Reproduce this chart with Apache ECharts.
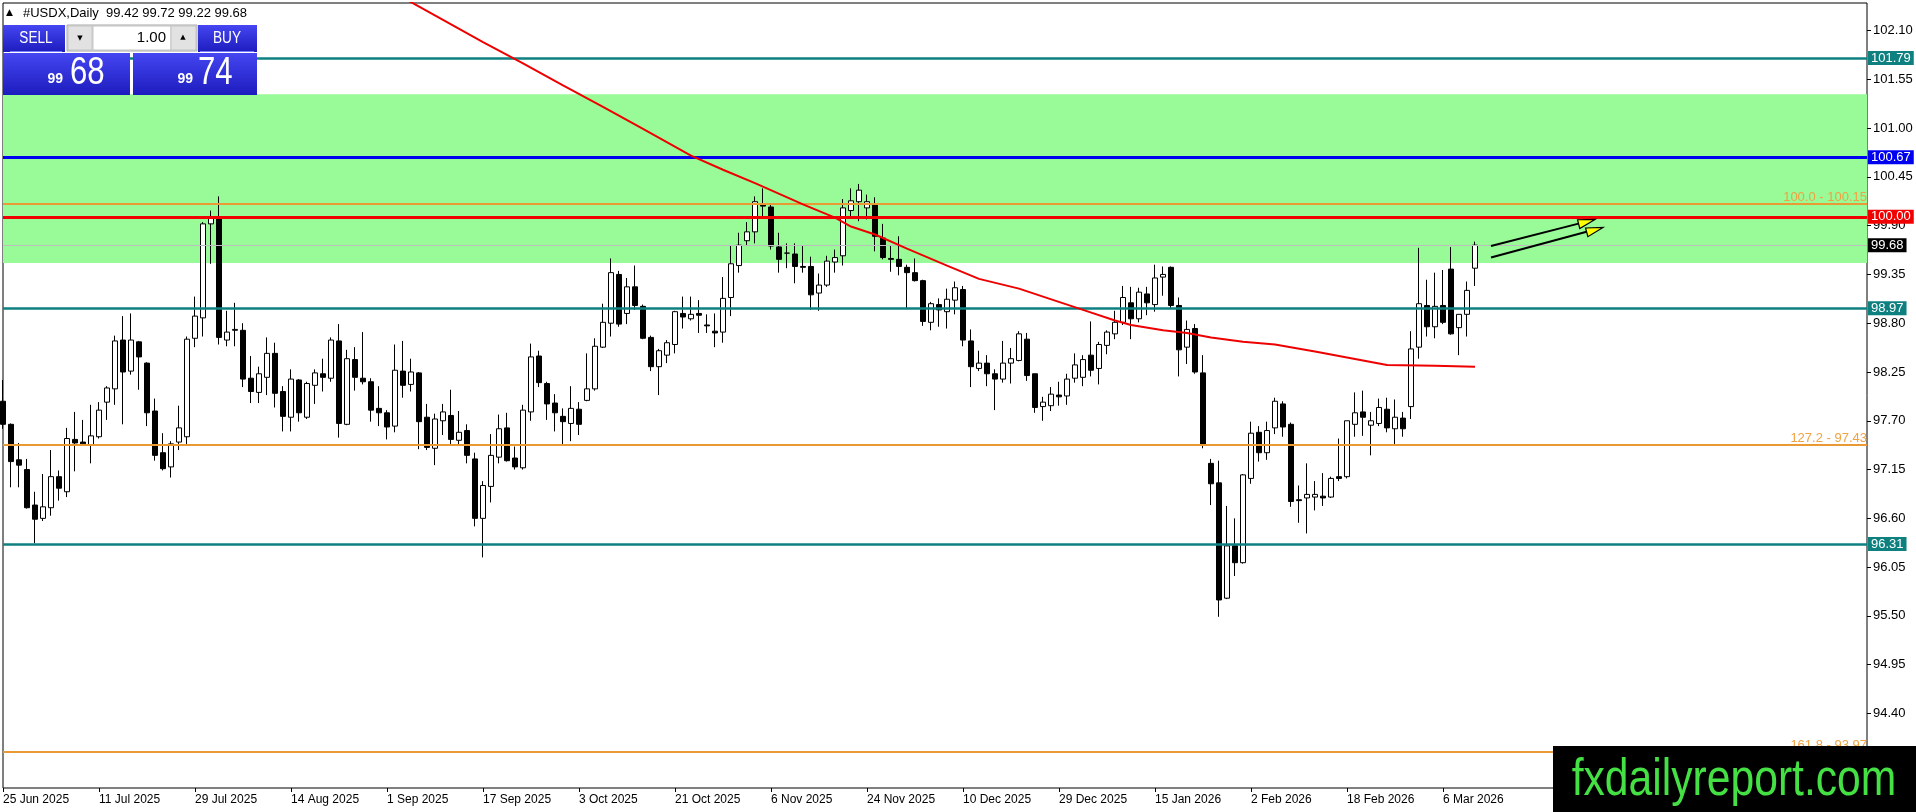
<!DOCTYPE html>
<html><head><meta charset="utf-8">
<script src="https://cdn.jsdelivr.net/npm/echarts@6/dist/echarts.min.js"></script>
<style>html,body{margin:0;padding:0;background:#fff;}#c{width:1916px;height:812px;}</style>
</head><body><div id="c"></div>
<script>
// ---- trading days (categories) ----
const jun25=[25,26,27,30];
const jul25=[1,2,3,4,7,8,9,10,11,14,15,16,17,18,21,22,23,24,25,28,29,30,31];
const aug25=[1,4,5,6,7,8,11,12,13,14,15,18,19,20,21,22,25,26,27,28,29];
const sep25=[1,2,3,4,5,8,9,10,11,12,15,16,17,18,19,22,23,24,25,26,29,30];
const oct25=[1,2,3,6,7,8,9,10,13,14,15,16,17,20,21,22,23,24,27,28,29,30,31];
const nov25=[3,4,5,6,7,10,11,12,13,14,17,18,19,20,21,24,25,26,27,28];
const dec25=[1,2,3,4,5,8,9,10,11,12,15,16,17,18,19,22,23,24,26,29,30,31];
const jan26=[2,5,6,7,8,9,12,13,14,15,16,19,20,21,22,23,26,27,28,29,30];
const feb26=[2,3,4,5,6,9,10,11,12,13,16,17,18,19,20,23,24,25,26,27];
const mar26=[2,3,4,5,6,9,10,11,12];
const monthNames=['Jan','Feb','Mar','Apr','May','Jun','Jul','Aug','Sep','Oct','Nov','Dec'];
const months=[[2025,6,jun25],[2025,7,jul25],[2025,8,aug25],[2025,9,sep25],[2025,10,oct25],[2025,11,nov25],[2025,12,dec25],[2026,1,jan26],[2026,2,feb26],[2026,3,mar26]];

// ---- OHLC ----
const opens=[97.92,97.66,97.26,97.15,96.75,96.60,96.72,97.07,96.90,97.49,97.46,97.43,97.52,97.91,98.06,98.61,98.26,98.59,98.35,97.81,97.34,97.18,97.46,97.52,98.63,98.86,99.92,99.98,98.61,98.72,98.72,98.18,98.02,98.19,98.46,98.03,97.74,98.16,97.74,98.10,98.23,98.18,98.60,97.66,98.39,98.18,98.14,97.84,97.79,97.64,98.26,98.11,98.24,97.74,97.39,97.70,97.76,97.48,97.59,97.27,96.60,96.96,97.29,97.62,97.28,97.17,97.80,98.43,98.12,97.90,97.75,97.67,97.83,97.93,98.06,98.53,98.80,99.35,98.91,99.21,98.99,98.64,98.31,98.44,98.56,98.91,98.85,98.91,98.78,98.71,98.70,99.09,99.45,99.73,99.83,100.14,100.11,99.66,99.59,99.58,99.44,99.44,99.14,99.23,99.49,99.56,100.07,100.17,100.10,100.14,99.76,99.53,99.52,99.43,99.37,99.28,98.81,99.01,98.93,99.06,99.18,98.60,98.29,98.35,98.23,98.17,98.35,98.38,98.62,98.23,97.86,97.87,97.99,97.98,98.18,98.19,98.44,98.29,98.55,98.68,98.81,99.03,98.85,99.13,99.01,99.32,99.43,99.00,98.53,98.74,98.24,97.22,97.00,95.70,96.29,96.10,97.05,97.57,97.34,97.62,97.89,97.66,96.81,96.83,96.84,96.85,96.84,97.07,97.07,97.66,97.80,97.65,97.67,97.83,97.61,97.73,97.86,98.53,99.00,98.76,99.00,99.41,98.75,98.90,99.42];
const closes=[97.66,97.24,97.20,96.72,96.59,96.73,97.07,96.94,97.50,97.45,97.44,97.53,97.82,98.07,98.60,98.25,98.61,98.42,97.79,97.31,97.16,97.44,97.62,98.62,98.88,99.92,99.98,98.64,98.70,98.73,98.17,98.03,98.23,98.46,98.01,97.75,98.17,97.79,98.12,98.24,98.19,98.61,97.67,98.40,98.19,98.14,97.82,97.79,97.63,98.27,98.10,98.25,97.69,97.40,97.72,97.80,97.49,97.57,97.31,96.60,96.97,97.31,97.61,97.25,97.18,97.82,98.42,98.13,97.89,97.79,97.69,97.84,97.66,98.06,98.54,98.81,99.37,98.79,99.21,99.00,98.63,98.31,98.49,98.58,98.93,98.87,98.90,98.89,98.77,98.69,99.08,99.47,99.68,99.83,100.17,100.12,99.67,99.52,99.59,99.44,99.43,99.12,99.23,99.50,99.54,100.10,100.18,100.30,100.17,99.78,99.54,99.52,99.44,99.37,99.28,98.82,99.02,98.95,99.07,99.20,98.61,98.31,98.35,98.23,98.17,98.35,98.40,98.68,98.21,97.85,97.91,98.00,97.97,98.17,98.33,98.39,98.27,98.56,98.70,98.81,99.09,98.85,99.15,99.03,99.31,99.35,99.00,98.50,98.73,98.25,97.43,96.99,95.68,96.29,96.10,97.09,97.56,97.34,97.59,97.92,97.63,96.79,96.80,96.87,96.87,96.83,97.05,97.05,97.70,97.79,97.74,97.70,97.85,97.62,97.74,97.61,98.51,99.02,98.76,98.99,98.81,98.68,98.90,99.17,99.68];
const lows=[97.61,96.95,96.95,96.71,96.32,96.57,96.63,96.80,96.84,97.13,97.43,97.22,97.50,97.71,97.88,97.66,98.22,98.05,97.64,97.25,97.14,97.06,97.37,97.43,98.53,98.65,99.47,98.56,98.54,98.54,98.08,97.90,97.90,97.99,97.85,97.58,97.58,97.69,97.72,97.89,98.03,98.14,97.51,97.65,98.04,98.11,97.69,97.64,97.49,97.57,97.96,98.03,97.38,97.37,97.20,97.54,97.43,97.43,97.22,96.51,96.16,96.78,97.22,97.24,97.15,97.15,97.70,98.08,97.71,97.58,97.43,97.47,97.54,97.92,98.04,98.52,98.65,98.76,98.79,98.95,98.62,98.26,97.99,98.35,98.46,98.74,98.83,98.69,98.69,98.53,98.58,98.88,99.37,99.67,99.70,100.00,99.63,99.37,99.42,99.25,99.37,98.95,98.94,99.21,99.37,99.45,100.00,99.95,99.97,99.61,99.52,99.38,99.34,98.97,99.27,98.77,98.72,98.76,98.74,98.90,98.54,98.08,98.26,98.09,97.82,98.13,98.12,98.37,98.15,97.79,97.70,97.81,97.87,97.88,98.13,98.09,98.20,98.11,98.45,98.62,98.78,98.62,98.81,98.89,98.93,99.11,98.97,98.20,98.34,98.23,97.39,96.75,95.49,95.69,95.95,96.09,96.99,97.24,97.26,97.55,97.52,96.73,96.55,96.43,96.69,96.74,96.83,97.02,97.05,97.52,97.53,97.31,97.64,97.57,97.43,97.52,97.72,98.40,98.65,98.63,98.79,98.67,98.44,98.65,99.22];
const highs=[98.16,97.67,97.45,97.27,96.90,97.10,97.37,97.14,97.62,97.80,97.71,97.88,97.91,98.09,98.66,98.88,98.91,98.60,98.36,97.95,97.56,97.47,97.87,98.65,99.10,99.94,100.07,100.23,98.94,99.03,98.80,98.43,98.31,98.64,98.58,98.09,98.28,98.17,98.14,98.28,98.40,98.64,98.79,98.50,98.53,98.70,98.18,98.09,97.82,98.56,98.60,98.40,98.25,97.89,97.78,97.89,98.05,97.81,97.66,97.34,97.02,97.55,97.77,97.79,97.41,97.88,98.57,98.49,98.14,98.00,97.84,98.09,97.91,98.46,98.63,99.02,99.53,99.39,99.31,99.45,99.01,98.66,98.51,98.61,98.94,99.10,99.10,99.06,98.90,98.91,99.32,99.68,99.82,99.94,100.23,100.32,100.14,99.82,99.70,99.70,99.67,99.55,99.36,99.56,99.63,100.20,100.32,100.37,100.25,100.22,99.92,99.67,99.78,99.46,99.53,99.29,99.04,99.08,99.19,99.27,99.22,98.73,98.49,98.44,98.28,98.60,98.52,98.71,98.69,98.23,97.97,98.08,98.14,98.23,98.46,98.44,98.82,98.59,98.72,98.94,99.22,99.21,99.20,99.21,99.46,99.44,99.44,99.09,98.83,98.79,98.44,97.27,97.25,96.74,96.60,97.10,97.69,97.64,97.69,97.96,97.92,97.68,96.97,97.22,97.02,97.11,97.07,97.50,97.70,98.02,98.04,97.80,97.95,97.96,97.94,97.80,98.71,99.65,99.29,99.37,99.40,99.66,98.90,99.27,99.72];

// ---- moving average (read points) ----
const maIndex=[50,55,60,65,70,75,80,86,90,94,100,104,106,109,113,118,122,127,130,135,139,141,145,148,151,155,159,164,170,173,179,184];
const maValue=[102.47,102.22,101.97,101.73,101.48,101.24,100.99,100.69,100.53,100.38,100.14,99.99,99.89,99.80,99.64,99.45,99.30,99.19,99.10,98.95,98.83,98.78,98.72,98.69,98.64,98.59,98.56,98.48,98.38,98.33,98.32,98.31];

// ---- y axis tick labels ----
const yTicks=[93.85,94.40,94.95,95.50,96.05,96.60,97.15,97.70,98.25,98.80,99.35,99.90,100.45,101.00,101.55,102.10];

// ---- drawn objects ----
const zoneTop=101.38, zoneBottom=99.48;
const tealLevels=[101.79,98.97,96.31];
const blueLevel=100.67, redLevel=100.00;
const fibLevels=[100.15,97.43,93.97];
const fibLabels=['100.0 - 100.15','127.2 - 97.43','161.8 - 93.97'];
const bid=99.68, ask=99.74;
const arrowLines=[[186,99.67,199,99.97],[186,99.54,200,99.88]];

// ---- build ----
const categories=[];
months.forEach(([y,m,ds])=>ds.forEach(d=>categories.push(d+' '+monthNames[m-1]+' '+y)));
const totalSlots=234;
const xData=categories.slice();
for(let k=categories.length;k<totalSlots;k++) xData.push('pad'+k);
const nBars=categories.length;
const candleData=opens.map((o,i)=>[o,closes[i],lows[i],highs[i]]);
const maData=new Array(totalSlots).fill(null);
maIndex.forEach((ix,k)=>{maData[ix]=maValue[k];});

const FONT='Liberation Sans';
const TEAL='#0E8080', FIB='#EA9A34', FIBTXT='#F0A242';
function tag(v,bg){return {show:true,position:'end',distance:1,formatter:v.toFixed(2),backgroundColor:bg,color:'#fff',fontFamily:FONT,fontSize:13,padding:[1,3,0,3],lineHeight:13};}
const markLines=[];
tealLevels.forEach(v=>markLines.push({yAxis:v,lineStyle:{color:TEAL,width:2.5,type:'solid'},label:tag(v,TEAL)}));
markLines.push({yAxis:blueLevel,lineStyle:{color:'#0000F0',width:3,type:'solid'},label:tag(blueLevel,'#0000F0')});
fibLevels.forEach((v,k)=>markLines.push({yAxis:v,lineStyle:{color:FIB,width:2,type:'solid'},label:{show:true,position:'insideEndTop',distance:0,formatter:fibLabels[k],color:FIBTXT,fontFamily:FONT,fontSize:13,lineHeight:13}}));
markLines.push({yAxis:redLevel,lineStyle:{color:'#F00000',width:3,type:'solid'},label:tag(redLevel,'#F00000')});
markLines.push({yAxis:bid,lineStyle:{color:'#BDBDBD',width:1,type:'solid'},label:tag(bid,'#000')});

const isLbl=(i)=>i%12===0 && i<nBars;
const blue=()=>new echarts.graphic.LinearGradient(0,0,0,1,[{offset:0,color:'#4646F2'},{offset:1,color:'#1C1CBE'}]);
const last=nBars-1;
const header='#USDX,Daily  '+opens[last].toFixed(2)+' '+highs[last].toFixed(2)+' '+lows[last].toFixed(2)+' '+closes[last].toFixed(2);
const bidStr=bid.toFixed(2).split('.'), askStr=ask.toFixed(2).split('.');

const chart=echarts.init(document.getElementById('c'),null,{renderer:'canvas'});
chart.setOption({
  animation:false,
  backgroundColor:'#fff',
  grid:{left:3,right:49,top:3,bottom:24,show:true,borderColor:'#000',borderWidth:1,backgroundColor:'transparent',containLabel:false,outerBoundsMode:'none'},
  xAxis:{type:'category',data:xData,boundaryGap:false,
    axisLine:{show:false},
    axisTick:{show:true,length:4,interval:isLbl,lineStyle:{color:'#000'}},
    axisLabel:{interval:isLbl,align:'left',color:'#000',fontFamily:FONT,fontSize:12,margin:6,
      formatter:(v,i)=>i<nBars?v:''},
    splitLine:{show:false}},
  yAxis:{type:'value',position:'right',min:93.56,max:102.41,
    axisLine:{show:false},splitLine:{show:false},
    axisTick:{show:true,length:4,customValues:yTicks,lineStyle:{color:'#000'}},
    axisLabel:{customValues:yTicks,formatter:v=>Number(v).toFixed(2),color:'#000',fontFamily:FONT,fontSize:13,margin:6}},
  series:[
    {type:'line',name:'zone',data:[],z:1,silent:true,
      markArea:{silent:true,itemStyle:{color:'#98FB98',opacity:1},data:[[{yAxis:zoneTop},{yAxis:zoneBottom}]]}},
    {type:'candlestick',name:'USDX',data:candleData,z:3,barWidth:5,clip:true,
      itemStyle:{color:'#fff',color0:'#000',borderColor:'#000',borderColor0:'#000',borderColorDoji:'#000',borderWidth:1}},
    {type:'line',name:'levels',data:[],z:6,silent:true,
      markLine:{silent:true,symbol:'none',animation:false,data:markLines}},
    {type:'line',name:'MA',data:maData,z:7,connectNulls:true,showSymbol:false,symbol:'none',clip:true,silent:true,
      lineStyle:{color:'#EE0000',width:2},itemStyle:{color:'#EE0000'}},
    {type:'custom',name:'arrows',data:arrowLines.map((a,i)=>[a[0],a[1]]),z:9,clip:false,silent:true,
      renderItem:(params,api)=>{
        const a=arrowLines[params.dataIndex];
        const p1=api.coord([a[0],a[1]]), p2=api.coord([a[2],a[3]]);
        const dx=p2[0]-p1[0], dy=p2[1]-p1[1], L=Math.hypot(dx,dy);
        const ux=dx/L, uy=dy/L, nx=-uy, ny=ux;
        const bx=p2[0]-17*ux, by=p2[1]-17*uy;
        return {type:'group',children:[
          {type:'line',shape:{x1:p1[0],y1:p1[1],x2:bx,y2:by},style:{stroke:'#000',lineWidth:2}},
          {type:'polygon',shape:{points:[[p2[0],p2[1]],[bx+5*nx,by+5*ny],[bx-4*nx,by-4*ny]]},style:{fill:'#FFFF00',stroke:'#000',lineWidth:1.2}}
        ]};
      }}
  ],
  graphic:{elements:[
    {type:'text',x:6,y:13,z:100,style:{text:'\u25B2',font:'9px DejaVu Sans',fill:'#000',textVerticalAlign:'middle'}},
    {type:'text',x:23,y:13,z:100,style:{text:header,font:'13px '+FONT,fill:'#000',textVerticalAlign:'middle'}},
    // trade panel
    {type:'rect',z:100,shape:{x:3,y:25,width:62,height:27},style:{fill:blue()}},
    {type:'rect',z:100,shape:{x:198,y:25,width:59,height:27},style:{fill:blue()}},
    {type:'rect',z:100,shape:{x:3,y:53,width:127,height:42},style:{fill:blue()}},
    {type:'rect',z:100,shape:{x:133,y:53,width:124,height:42},style:{fill:blue()}},
    {type:'line',z:101,shape:{x1:10,y1:51.5,x2:62,y2:51.5},style:{stroke:'#7C7CFF',lineWidth:1}},
    {type:'line',z:101,shape:{x1:200,y1:51.5,x2:254,y2:51.5},style:{stroke:'#7C7CFF',lineWidth:1}},
    {type:'rect',z:100,shape:{x:67,y:25,width:130,height:26},style:{fill:'#E4E4E4',stroke:'#A8A8A8',lineWidth:1}},
    {type:'rect',z:101,shape:{x:68,y:26,width:24,height:24},style:{fill:'#E2E2E2',stroke:'#C4C4C4',lineWidth:1}},
    {type:'rect',z:101,shape:{x:93,y:26,width:78,height:24},style:{fill:'#fff',stroke:'#C4C4C4',lineWidth:1}},
    {type:'rect',z:101,shape:{x:171,y:26,width:25,height:24},style:{fill:'#E2E2E2',stroke:'#C4C4C4',lineWidth:1}},
    {type:'text',z:102,x:80,y:38,style:{text:'\u25BC',font:'7px DejaVu Sans',fill:'#000',textAlign:'center',textVerticalAlign:'middle'}},
    {type:'text',z:102,x:183,y:37,style:{text:'\u25B2',font:'7px DejaVu Sans',fill:'#000',textAlign:'center',textVerticalAlign:'middle'}},
    {type:'text',z:102,x:166,y:38,style:{text:'1.00',font:'15px '+FONT,fill:'#000',textAlign:'right',textVerticalAlign:'middle'}},
    {type:'text',z:102,x:36,y:39,scaleX:0.85,style:{text:'SELL',font:'16px '+FONT,fill:'#fff',textAlign:'center',textVerticalAlign:'middle'}},
    {type:'text',z:102,x:227,y:39,scaleX:0.85,style:{text:'BUY',font:'16px '+FONT,fill:'#fff',textAlign:'center',textVerticalAlign:'middle'}},
    {type:'text',z:102,x:63,y:86,style:{text:bidStr[0],font:'bold 14px '+FONT,fill:'#fff',textAlign:'right',textVerticalAlign:'bottom'}},
    {type:'text',z:102,x:70,y:93,scaleX:0.82,style:{text:bidStr[1],font:'38px '+FONT,fill:'#fff',textAlign:'left',textVerticalAlign:'bottom'}},
    {type:'text',z:102,x:193,y:86,style:{text:askStr[0],font:'bold 14px '+FONT,fill:'#fff',textAlign:'right',textVerticalAlign:'bottom'}},
    {type:'text',z:102,x:198,y:93,scaleX:0.82,style:{text:askStr[1],font:'38px '+FONT,fill:'#fff',textAlign:'left',textVerticalAlign:'bottom'}},
    // watermark
    {type:'rect',z:110,shape:{x:1553,y:746,width:363,height:66},style:{fill:'#000'}},
    {type:'text',z:111,x:1734,y:781,scaleX:0.82,style:{text:'fxdailyreport.com',font:'52px '+FONT,fill:'#44E044',textAlign:'center',textVerticalAlign:'middle'}}
  ]}
});
</script>
</body></html>
